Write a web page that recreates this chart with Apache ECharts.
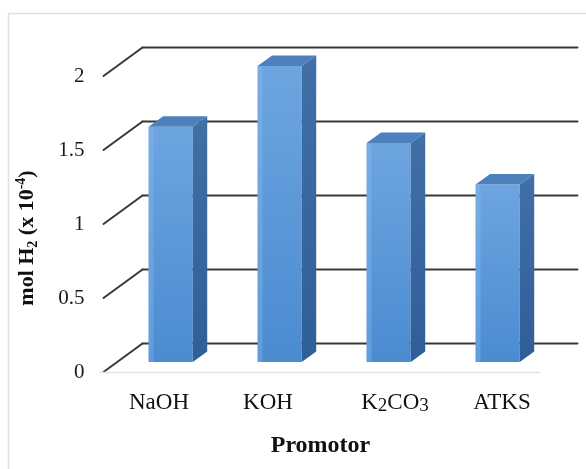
<!DOCTYPE html>
<html>
<head>
<meta charset="utf-8">
<script src="https://cdn.jsdelivr.net/npm/echarts@6/dist/echarts.min.js"></script>
<style>
  html, body { margin: 0; padding: 0; background: #ffffff; }
  #chart { width: 586px; height: 469px; }
</style>
</head>
<body>
<div id="chart"></div>
<script>
// Hydrogen produced per promotor (mol H2, x 10^-4)
const categories = ['NaOH', 'KOH', 'K2CO3', 'ATKS'];
const values = [1.59, 2.0, 1.48, 1.2];
const yTicks = [0, 0.5, 1, 1.5, 2];

// Oblique depth of the chart box (front plane -> back wall), in pixels
const DEPTH_X = 39;
const DEPTH_Y = -28.5;
// Bars sit part-way into the box and have their own small depth
const BAR_FRONT = 0.35;
const BAR_DX = 14.5;
const BAR_DY = -10.5;
const BAR_RATIO = 0.405;

const FONT = '"Liberation Serif", "Times New Roman", serif';

const chart = echarts.init(document.getElementById('chart'), null, { renderer: 'canvas' });

// Back wall grid lines with their left-side diagonals, plus the faint floor edge
function renderWalls(params, api) {
  const cs = params.coordSys;
  const v = api.value(1);
  const y = api.coord([0, v])[1];
  const x0 = cs.x + 1;
  const lineStyle = { stroke: '#383838', lineWidth: 2, lineCap: 'round' };
  const children = [
    { type: 'line', shape: { x1: x0, y1: y, x2: x0 + DEPTH_X, y2: y + DEPTH_Y }, style: lineStyle },
    { type: 'line', shape: { x1: x0 + DEPTH_X, y1: y + DEPTH_Y, x2: cs.x + cs.width + DEPTH_X, y2: y + DEPTH_Y }, style: lineStyle }
  ];
  if (v === 0) {
    children.push({
      type: 'line',
      shape: { x1: cs.x - 3, y1: y + 0.5, x2: cs.x + cs.width + 2, y2: y + 0.5 },
      style: { stroke: '#e9e2e4', lineWidth: 1.5 }
    });
  }
  return { type: 'group', children };
}

// Box-shaped bars: front face, right side face and top face
function renderBar(params, api) {
  const i = api.value(0);
  const v = api.value(1);
  const top = api.coord([i, v]);
  const base = api.coord([i, 0]);
  const band = api.size([1, 0])[0];
  const w = band * BAR_RATIO;
  const cx = top[0] + DEPTH_X * BAR_FRONT;
  const yo = DEPTH_Y * BAR_FRONT;
  const xL = cx - w / 2, xR = cx + w / 2;
  const yT = top[1] + yo, yB = base[1] + yo;

  const front = new echarts.graphic.LinearGradient(0, 0, 0, 1, [
    { offset: 0, color: '#6da5e0' },
    { offset: 1, color: '#4a8bd0' }
  ]);
  const side = new echarts.graphic.LinearGradient(0, 0, 0, 1, [
    { offset: 0, color: '#416fa6' },
    { offset: 1, color: '#2f5f98' }
  ]);

  return {
    type: 'group',
    children: [
      { type: 'rect', shape: { x: xL, y: yT, width: w, height: yB - yT }, style: { fill: front } },
      { type: 'rect', shape: { x: xL, y: yT, width: 5, height: yB - yT }, style: { fill: 'rgba(140,190,240,0.35)' } },
      { type: 'polygon', shape: { points: [[xR, yT], [xR + BAR_DX, yT + BAR_DY], [xR + BAR_DX, yB + BAR_DY], [xR, yB]] }, style: { fill: side } },
      { type: 'polygon', shape: { points: [[xL, yT], [xL + BAR_DX, yT + BAR_DY], [xR + BAR_DX, yT + BAR_DY], [xR, yT]] }, style: { fill: '#4d80bd' } }
    ]
  };
}

const catRich = {
  n: { fontFamily: FONT, fontSize: 23, color: '#111', lineHeight: 26 },
  s: { fontFamily: FONT, fontSize: 19, color: '#111', lineHeight: 24, verticalAlign: 'bottom' },
  p0: { width: 0, padding: [0, 0, 0, 4] },
  p1: { width: 0, padding: [0, 0, 0, 4] },
  p2: { width: 0, padding: [0, 0, 0, 40] },
  p3: { width: 0, padding: [0, 0, 0, 36] }
};

const option = {
  backgroundColor: '#ffffff',
  animation: false,
  graphic: [{
    type: 'rect',
    shape: { x: 8.5, y: 13.5, width: 600, height: 480 },
    style: { fill: 'none', stroke: '#dbe2ea', lineWidth: 1.5 },
    z: 0
  }],
  grid: { left: 102.5, right: 47.5, top: 76, bottom: 97 },
  xAxis: {
    type: 'category',
    data: categories,
    axisLine: { show: false },
    axisTick: { show: false },
    splitLine: { show: false },
    axisLabel: {
      interval: 0,
      hideOverlap: false,
      margin: 18,
      formatter: function (value, idx) {
        const text = value.replace(/(\d)/g, '}{s|$1}{n|');
        return '{p' + idx + '|}{n|' + text + '}';
      },
      rich: catRich
    },
    name: 'Promotor',
    nameLocation: 'middle',
    nameGap: 62,
    nameTextStyle: { fontFamily: FONT, fontSize: 24, fontWeight: 'bold', color: '#111' }
  },
  yAxis: {
    type: 'value',
    min: 0,
    max: 2,
    interval: 0.5,
    axisLine: { show: false },
    axisTick: { show: false },
    splitLine: { show: false },
    axisLabel: {
      margin: 18,
      padding: [6, 0, 0, 0],
      fontFamily: FONT,
      fontSize: 21,
      color: '#1a1a1a'
    },
    name: '{b|mol H}{sub|2}{b| (x 10}{sup|-4}{b|)}',
    nameLocation: 'middle',
    nameGap: 62,
    nameRotate: 90,
    nameTextStyle: {
      padding: [0, 28, 0, 0],
      rich: {
        b: { fontFamily: FONT, fontSize: 22, fontWeight: 'bold', color: '#111', lineHeight: 26 },
        sub: { fontFamily: FONT, fontSize: 14, fontWeight: 'bold', color: '#111', lineHeight: 26, verticalAlign: 'bottom' },
        sup: { fontFamily: FONT, fontSize: 14, fontWeight: 'bold', color: '#111', lineHeight: 26, verticalAlign: 'top' }
      }
    }
  },
  series: [
    {
      type: 'custom',
      name: 'walls',
      renderItem: renderWalls,
      data: yTicks.map(v => [0, v]),
      silent: true,
      z: 1
    },
    {
      type: 'custom',
      name: 'mol H2',
      renderItem: renderBar,
      data: values.map((v, i) => [i, v]),
      z: 2
    }
  ]
};

chart.setOption(option);
</script>
</body>
</html>
